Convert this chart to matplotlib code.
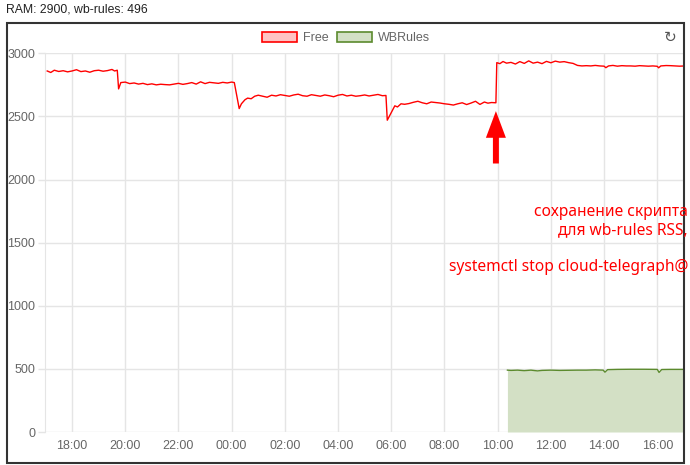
import matplotlib
matplotlib.use('Agg')
import matplotlib.pyplot as plt
import matplotlib.dates as mdates
from matplotlib.patches import Patch, Rectangle
import pandas as pd

# --- data (times are HH:MM, before 17:00 = next day) ---
free_times = [
    "17:04", "17:12", "17:20", "17:30", "17:40", "17:50", "18:00", "18:10", "18:20", "18:30",
    "18:40", "18:50", "19:00", "19:10", "19:20", "19:30", "19:36", "19:42", "19:45", "19:50",
    "20:00", "20:10", "20:20", "20:30", "20:40", "20:50", "21:00", "21:10", "21:20", "21:30",
    "21:40", "21:50", "22:00", "22:10", "22:20", "22:30", "22:40", "22:50", "23:00", "23:10",
    "23:20", "23:30", "23:40", "23:50", "00:00", "00:06", "00:17", "00:22", "00:30", "00:36",
    "00:44", "00:52", "01:00", "01:10", "01:20", "01:30", "01:40", "01:50", "02:00", "02:10",
    "02:20", "02:30", "02:40", "02:50", "03:00", "03:10", "03:20", "03:30", "03:40", "03:50",
    "04:00", "04:10", "04:20", "04:30", "04:40", "04:50", "05:00", "05:10", "05:20", "05:30",
    "05:40", "05:48", "05:51", "06:08", "06:14", "06:22", "06:30", "06:40", "06:50", "07:00",
    "07:10", "07:20", "07:30", "07:40", "07:50", "08:00", "08:10", "08:20", "08:30", "08:40",
    "08:50", "09:00", "09:10", "09:20", "09:30", "09:38", "09:46", "09:56", "09:58", "10:05",
    "10:12", "10:20", "10:30", "10:40", "10:50", "11:00", "11:10", "11:20", "11:30", "11:40",
    "11:50", "12:00", "12:10", "12:20", "12:30", "12:40", "12:50", "13:00", "13:10", "13:20",
    "13:30", "13:40", "13:50", "14:00", "14:04", "14:10", "14:20", "14:30", "14:40", "14:50",
    "15:00", "15:10", "15:20", "15:30", "15:40", "15:50", "16:00", "16:03", "16:08", "16:20",
    "16:30", "16:40", "16:50", "16:57",
]
free_values = [
    2860, 2848, 2866, 2856, 2862, 2853, 2860, 2870, 2855, 2860,
    2850, 2862, 2866, 2858, 2863, 2872, 2860, 2866, 2718, 2768,
    2772, 2760, 2765, 2756, 2762, 2752, 2758, 2750, 2755, 2752,
    2750, 2756, 2762, 2754, 2760, 2768, 2756, 2774, 2760, 2770,
    2766, 2762, 2770, 2765, 2772, 2768, 2562, 2600, 2632, 2645,
    2640, 2660, 2668, 2660, 2652, 2668, 2662, 2672, 2666, 2660,
    2670, 2676, 2664, 2660, 2672, 2666, 2660, 2670, 2664, 2656,
    2668, 2674, 2662, 2668, 2660, 2664, 2670, 2662, 2668, 2674,
    2664, 2666, 2470, 2584, 2575, 2600, 2596, 2602, 2612, 2620,
    2608, 2600, 2614, 2610, 2606, 2600, 2596, 2590, 2600, 2608,
    2594, 2606, 2620, 2595, 2614, 2605, 2610, 2608, 2926, 2918,
    2935, 2922, 2928, 2915, 2934, 2920, 2940, 2922, 2930, 2918,
    2936, 2925, 2938, 2930, 2934, 2926, 2920, 2904, 2900, 2902,
    2900, 2904, 2900, 2898, 2886, 2900, 2904, 2898, 2902, 2900,
    2900, 2898, 2902, 2900, 2898, 2900, 2897, 2885, 2900, 2903,
    2902, 2900, 2898, 2899,
]

wb_times = [
    "10:22", "10:30", "10:45", "11:00", "11:15", "11:30", "11:40", "12:00", "12:20", "12:40",
    "13:00", "13:20", "13:40", "13:58", "14:02", "14:08", "14:30", "15:00", "15:30", "16:00",
    "16:04", "16:10", "16:30", "16:57",
]
wb_values = [
    490, 488, 490, 486, 490, 484, 488, 490, 488, 489,
    490, 490, 492, 490, 474, 494, 496, 497, 497, 496,
    472, 495, 496, 496,
]

title = "RAM: 2900, wb-rules: 496"
note_lines = ["сохранение скрипта", "для wb-rules RSS,", "systemctl stop cloud-telegraph@"]
arrow_time = "09:56"
arrow_tip, arrow_base = 2542, 2127

DAY1, DAY2 = "2024-01-01", "2024-01-02"


def to_dt(hhmm, day=None):
    if day is None:
        day = DAY1 if int(hhmm[:2]) >= 17 else DAY2
    return pd.Timestamp(f"{day} {hhmm}")


free_x = [to_dt(t) for t in free_times]
wb_x = [to_dt(t) for t in wb_times]

W, H = 690, 465
fig = plt.figure(figsize=(W / 100, H / 100), dpi=100)
ax = fig.add_axes([45 / W, (H - 432) / H, 638 / W, (432 - 53.3) / H])

grid_c = '#e5e5e5'
tick_c = '#666666'

ax.plot(free_x, free_values, color='#ff0000', lw=1.0, zorder=3)
ax.fill_between(wb_x, 0, wb_values, color='#d3e0c5', lw=0, zorder=2)
ax.plot(wb_x, wb_values, color='#5b8a2d', lw=1.0, zorder=3)

ax.set_xlim(to_dt("16:59", DAY1), to_dt("16:58", DAY2))
ax.set_ylim(0, 3000)
ax.set_yticks(range(0, 3001, 500))
ax.xaxis.set_major_locator(mdates.HourLocator(byhour=range(0, 24, 2)))
ax.xaxis.set_major_formatter(mdates.DateFormatter('%H:%M'))

ax.grid(True, color=grid_c, lw=1.0, zorder=0)
for side in ['top', 'right', 'bottom']:
    ax.spines[side].set_visible(False)
ax.spines['left'].set_color(grid_c)
ax.tick_params(axis='y', length=5, width=1, color=grid_c, pad=2,
               labelsize=9, labelcolor=tick_c)
ax.tick_params(axis='x', length=0, pad=6, labelsize=9, labelcolor=tick_c)
for lab in ax.get_xticklabels() + ax.get_yticklabels():
    lab.set_family('Liberation Sans')

# red arrow pointing at the jump
ax.annotate('', xy=(to_dt(arrow_time), arrow_tip), xytext=(to_dt(arrow_time), arrow_base),
            arrowprops=dict(arrowstyle='simple,head_length=1.92,head_width=1.44,tail_width=0.43',
                            mutation_scale=10, color='#ff0000', lw=0,
                            shrinkA=0, shrinkB=0), zorder=5)

# legend
handles = [Patch(facecolor='#ffc4c4', edgecolor='#ff0000', lw=1.2, label='Free'),
           Patch(facecolor='#d3e0c5', edgecolor='#5b8a2d', lw=1.2, label='WBRules')]
fig.legend(handles=handles, loc='center', bbox_to_anchor=(346 / W, 1 - 38 / H), ncol=2,
           frameon=False, handlelength=2.8, handleheight=0.95, handletextpad=0.5,
           columnspacing=0.6, prop={'family': 'Liberation Sans', 'size': 9},
           labelcolor=tick_c)

# reset icon
fig.text(670 / W, 1 - 37 / H, '\u21bb', ha='center', va='center', fontsize=11,
         color='#555555', family='DejaVu Sans')

# panel frame
fig.patches.append(Rectangle((7 / W, (H - 463) / H), 677 / W, 440 / H,
                             transform=fig.transFigure, fill=False,
                             edgecolor='#333333', lw=1.5))

fig.text(6 / W, 1 - 10 / H, title, ha='left', va='center', fontsize=8.8,
         color='#222222', family='Liberation Sans')

for line, ypix in zip(note_lines, [212, 230, 267]):
    fig.text(688 / W, 1 - ypix / H, line, ha='right', va='center', fontsize=11.2,
             color='#ff0000', family=['Noto Sans', 'DejaVu Sans'])

fig.savefig('out.png', dpi=100, facecolor='white')
